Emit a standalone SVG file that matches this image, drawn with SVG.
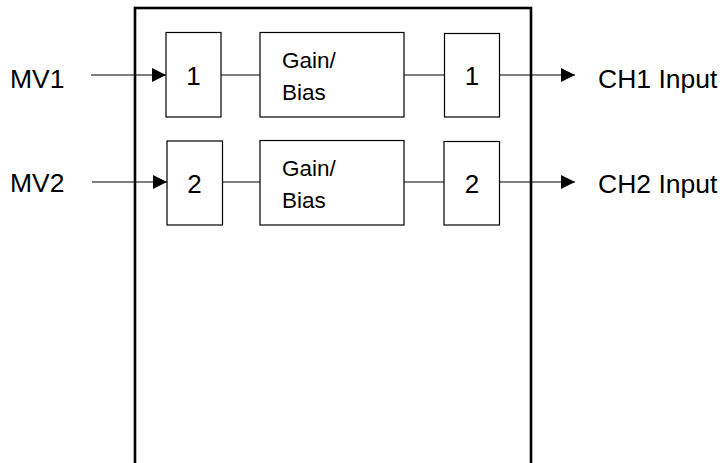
<svg xmlns="http://www.w3.org/2000/svg" width="725" height="463" viewBox="0 0 725 463">
<defs>
<style>
.box{fill:#fff;stroke:#000;stroke-width:1.2}
.outer{fill:#fff;stroke:#000;stroke-width:2.6}
.ln{stroke:#000;stroke-width:1.2;fill:none}
.t{font-family:"Liberation Sans",Arial,sans-serif;font-size:26.5px;fill:#000}
.d{font-family:"Liberation Sans",Arial,sans-serif;font-size:26px;fill:#000}
.g{font-family:"Liberation Sans",Arial,sans-serif;font-size:22.5px;fill:#000}
</style>
<marker id="ah" viewBox="0 0 14 14" refX="14" refY="7" markerWidth="14" markerHeight="14" markerUnits="userSpaceOnUse" orient="auto">
<path d="M0,0 L14,7 L0,14 Z" fill="#000"/>
</marker>
</defs>
<rect width="725" height="463" fill="#fff"/>
<g id="outer"><rect class="outer" x="135" y="8" width="396" height="470"/></g>
<g id="mv1"><text class="t" x="10" y="88">MV1</text></g>
<g id="mv2"><text class="t" x="10" y="192">MV2</text></g>
<g id="ch1"><text class="t" x="598" y="88">CH1 Input</text></g>
<g id="ch2"><text class="t" x="598" y="193">CH2 Input</text></g>
<g id="in1"><rect class="box" x="166" y="32.5" width="55" height="84.5"/><text class="d" x="193.5" y="85" text-anchor="middle">1</text></g>
<g id="gb1"><rect class="box" x="260" y="32.5" width="144" height="84.5"/><text class="g" x="282" y="68">Gain/</text><text class="g" x="282" y="100">Bias</text></g>
<g id="out1"><rect class="box" x="444.5" y="33.5" width="55" height="83.5"/><text class="d" x="472" y="85" text-anchor="middle">1</text></g>
<g id="in2"><rect class="box" x="167" y="141" width="55.5" height="84"/><text class="d" x="194.5" y="193" text-anchor="middle">2</text></g>
<g id="gb2"><rect class="box" x="260" y="140.5" width="144" height="84.5"/><text class="g" x="282" y="176">Gain/</text><text class="g" x="282" y="208">Bias</text></g>
<g id="out2"><rect class="box" x="444" y="141.5" width="55.5" height="83.5"/><text class="d" x="472" y="193" text-anchor="middle">2</text></g>
<g id="connectors">
<line class="ln" x1="91" y1="75" x2="166" y2="75" marker-end="url(#ah)"/>
<line class="ln" x1="92" y1="182" x2="167" y2="182" marker-end="url(#ah)"/>
<line class="ln" x1="221" y1="75" x2="260" y2="75"/>
<line class="ln" x1="404" y1="75" x2="444.5" y2="75"/>
<line class="ln" x1="222.5" y1="182" x2="260" y2="182"/>
<line class="ln" x1="404" y1="182" x2="444" y2="182"/>
<line class="ln" x1="499.5" y1="75" x2="575" y2="75" marker-end="url(#ah)"/>
<line class="ln" x1="499.5" y1="182" x2="575" y2="182" marker-end="url(#ah)"/>
</g>
</svg>
